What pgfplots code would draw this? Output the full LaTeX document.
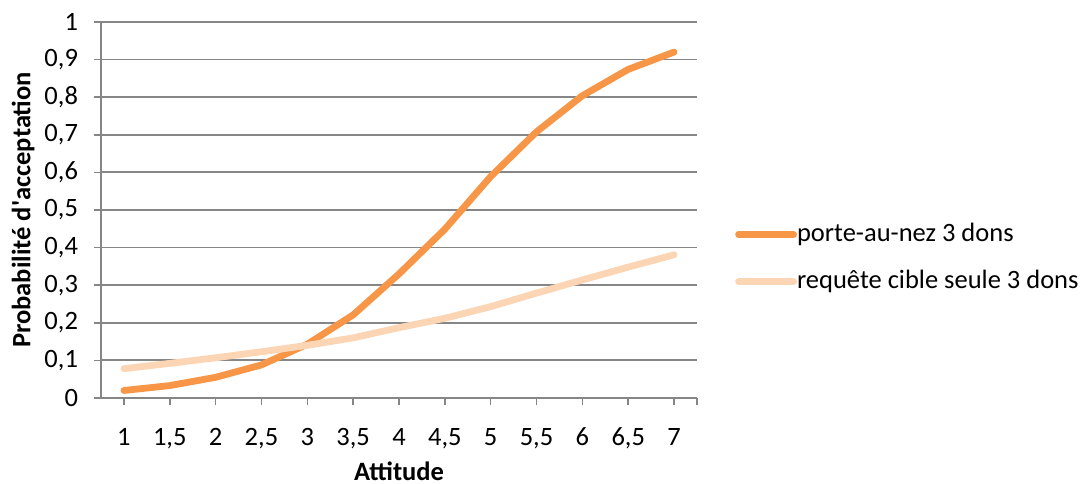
\documentclass[border=0pt]{standalone}
\usepackage{fontspec}
\setmainfont{Carlito}
\usepackage{pgfplots}
\pgfplotsset{compat=1.18}
\definecolor{orangeA}{RGB}{247,150,70}
\definecolor{orangeL}{RGB}{252,213,181}
\definecolor{gridgray}{RGB}{134,134,134}
\begin{document}
\fontsize{26.5}{32}\selectfont
\begin{tikzpicture}
\useasboundingbox (-101pt,-86pt) rectangle (982pt,398pt);
\begin{axis}[
  at={(0pt,0pt)}, anchor=south west,
  scale only axis, width=596pt, height=376pt,
  xmin=-0.5, xmax=12.5, ymin=0, ymax=1,
  axis x line*=bottom, axis y line*=left,
  axis line style={gridgray, line width=1.8pt},
  xtick={0,1,2,3,4,5,6,7,8,9,10,11,12},
  xticklabels={1,{1,5},2,{2,5},3,{3,5},4,{4,5},5,{5,5},6,{6,5},7},
  extra x ticks={12.5}, extra x tick labels={},
  ytick={0,0.1,0.2,0.3,0.4,0.5,0.6,0.7,0.8,0.9,1},
  yticklabels={0,{0,1},{0,2},{0,3},{0,4},{0,5},{0,6},{0,7},{0,8},{0,9},1},
  ymajorgrids, major grid style={gridgray, line width=1.8pt},
  tick align=outside, major tick length=7pt,
  tick style={gridgray, line width=1.6pt},
  /pgf/number format/assume math mode=true,
  tick label style={font=\fontsize{26.5}{32}\selectfont, text=black},
  yticklabel style={xshift=-7pt},
  xticklabel style={yshift=-14pt},
  xlabel={\bfseries Attitude},
  ylabel={\bfseries Probabilit\'e d\textquotesingle acceptation},
  xlabel style={font=\fontsize{26.5}{32}\selectfont, inner sep=0pt, yshift=10pt},
  ylabel style={font=\fontsize{26.5}{32}\selectfont, yshift=-8pt},
  legend style={at={(1.0638,0.3723)}, anchor=west, draw=none, fill=none,
    inner sep=0pt, row sep=25pt, nodes={inner sep=0pt},
    font=\fontsize{26.5}{32}\selectfont,
    /tikz/every even column/.append style={column sep=0pt}},
  legend cell align=left,
  legend image code/.code={\draw[#1, line cap=round] (0pt,0pt) -- (55pt,0pt);},
]
\addplot[orangeA, line width=6.8pt, line cap=round, line join=round] coordinates {
  (0,0.020) (1,0.033) (2,0.055) (3,0.088) (4,0.143) (5,0.221) (6,0.330)
  (7,0.449) (8,0.589) (9,0.708) (10,0.804) (11,0.874) (12,0.920)};
\addlegendentry{porte-au-nez 3 dons}
\addplot[orangeL, line width=6.8pt, line cap=round, line join=round] coordinates {
  (0,0.078) (1,0.092) (2,0.107) (3,0.123) (4,0.140) (5,0.160) (6,0.187)
  (7,0.212) (8,0.243) (9,0.279) (10,0.314) (11,0.348) (12,0.381)};
\addlegendentry{requête cible seule 3 dons}
\end{axis}
\end{tikzpicture}
\end{document}
